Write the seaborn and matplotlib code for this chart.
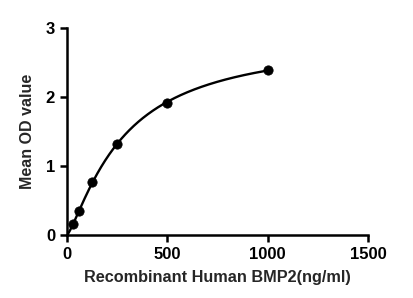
import numpy as np
import pandas as pd
import seaborn as sns
import matplotlib
matplotlib.use("Agg")
import matplotlib.pyplot as plt

conc = [31.25, 62.5, 125, 250, 500, 1000]
od = [0.155, 0.35, 0.77, 1.32, 1.92, 2.39]
x_ticks = [0, 500, 1000, 1500]
y_ticks = [0, 1, 2, 3]

df = pd.DataFrame({"conc": conc, "od": od})

# 4PL fit (bottom fixed at 0) via simple Levenberg-Marquardt in numpy
xd = np.array(conc, float); yd = np.array(od, float)
def f(p, x):
    b, c, d = p
    return d / (1 + (c / x) ** b)
p = np.array([1.3, 300.0, 2.8])
lam = 1e-3
for _ in range(500):
    r = yd - f(p, xd)
    J = np.zeros((len(xd), 3))
    for i in range(3):
        dp = np.zeros(3); dp[i] = 1e-6 * max(abs(p[i]), 1)
        J[:, i] = (f(p + dp, xd) - f(p - dp, xd)) / (2 * dp[i])
    A = J.T @ J
    step = np.linalg.solve(A + lam * np.diag(np.diag(A)), J.T @ r)
    pn = p + step
    if np.sum((yd - f(pn, xd)) ** 2) < np.sum(r ** 2):
        p = pn; lam *= 0.5
    else:
        lam *= 5
xs = np.linspace(4, 1000, 400)
fit = pd.DataFrame({"conc": xs, "od": f(p, xs)})

sns.set_style("ticks")
plt.rcParams["font.family"] = ["Liberation Sans", "DejaVu Sans"]
plt.rcParams["font.weight"] = "bold"

fig = plt.figure(figsize=(4.13, 2.98), dpi=100)
ax = fig.add_axes([0.162, 0.211, 0.729, 0.695])
sns.lineplot(data=fit, x="conc", y="od", ax=ax, color="black", linewidth=1.7)
sns.scatterplot(data=df, x="conc", y="od", ax=ax, color="black", s=45, edgecolor="black", zorder=3)

ax.set_xlim(0, 1500)
ax.set_ylim(0, 3)
ax.set_xticks(x_ticks)
ax.set_yticks(y_ticks)
ax.set_xlabel("Recombinant Human BMP2(ng/ml)", fontsize=11.7, fontweight="bold", labelpad=6)
ax.set_ylabel("Mean OD value", fontsize=11.5, fontweight="bold", labelpad=8)
for lab in ax.get_xticklabels() + ax.get_yticklabels():
    lab.set_fontweight("bold")
ax.tick_params(axis="both", labelsize=12, width=1.8, length=5, color="black", labelcolor="black")
for s in ["top", "right"]:
    ax.spines[s].set_visible(False)
for s in ["left", "bottom"]:
    ax.spines[s].set_linewidth(1.8)
    ax.spines[s].set_color("black")
ax.spines["left"].set_bounds(0, 3)
ax.spines["bottom"].set_bounds(0, 1500)

fig.savefig("out.png", dpi=100)
